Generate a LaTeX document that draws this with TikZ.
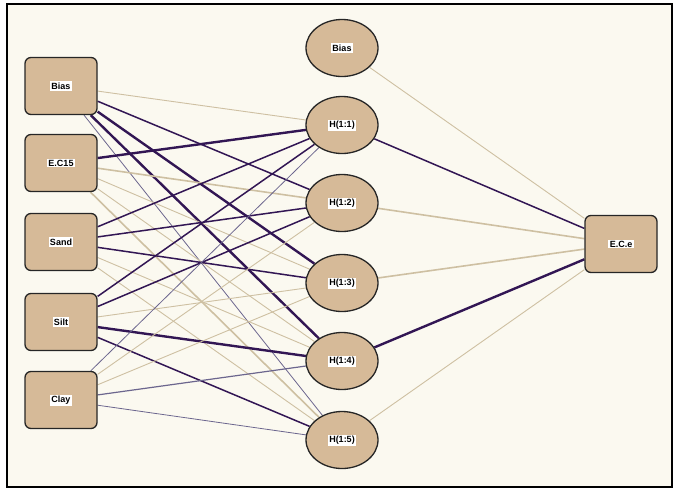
\documentclass[tikz,border=0pt]{standalone}
\usepackage{fontspec}
\setmainfont{Liberation Sans}
\usetikzlibrary{shapes.geometric,backgrounds}
\definecolor{bg}{RGB}{251,249,240}
\definecolor{nodefill}{RGB}{214,186,152}
\definecolor{dk}{RGB}{50,22,84}
\definecolor{tanl}{RGB}{206,192,162}
\definecolor{bluel}{RGB}{108,102,142}
\newcommand\lbl[1]{{\setlength\fboxsep{1.3pt}\colorbox{white}{\bfseries\fontsize{9}{10}\selectfont #1}}}
\begin{document}
\begin{tikzpicture}[x=1pt,y=-1pt,
 box/.style={draw=black!85, line width=1.3pt, fill=nodefill, rounded corners=6pt, minimum width=72pt, minimum height=57pt, inner sep=0pt},
 oval/.style={ellipse, draw=black!85, line width=1.3pt, fill=nodefill, minimum width=72pt, minimum height=57pt, inner sep=0pt},
 dkthick/.style={draw=dk, line width=2.4pt},
 dkmed/.style={draw=dk, line width=1.5pt},
 tanmed/.style={draw=tanl, line width=1.6pt},
 tanthin/.style={draw=tanl, line width=0.9pt},
 bluethin/.style={draw=bluel, line width=0.8pt},
 bluemed/.style={draw=bluel, line width=1.2pt}]
\useasboundingbox (0,0) rectangle (677,491);
% input nodes
\node[box] (ib) at (61,86) {\lbl{Bias}};
\node[box] (ie) at (61,163) {\lbl{E.C15}};
\node[box] (isa) at (61,242) {\lbl{Sand}};
\node[box] (isi) at (61,322) {\lbl{Silt}};
\node[box] (ic) at (61,400) {\lbl{Clay}};
% hidden nodes
\node[oval] (hb) at (342,48) {\lbl{Bias}};
\node[oval] (h1) at (342,125) {\lbl{H(1:1)}};
\node[oval] (h2) at (342,203) {\lbl{H(1:2)}};
\node[oval] (h3) at (342,283) {\lbl{H(1:3)}};
\node[oval] (h4) at (342,361) {\lbl{H(1:4)}};
\node[oval] (h5) at (342,440) {\lbl{H(1:5)}};
% output
\node[box] (o) at (621,244) {\lbl{E.C.e}};
\begin{pgfonlayer}{background}
\fill[white] (0,0) rectangle (677,491);
\draw[fill=bg, line width=2.2pt] (7,4) rectangle (672,487);
% Bias inputs
\draw[tanthin] (ib) -- (h1);
\draw[dkmed] (ib) -- (h2);
\draw[dkthick] (ib) -- (h3);
\draw[dkthick] (ib) -- (h4);
\draw[bluethin] (ib) -- (h5);
% E.C15
\draw[dkthick] (ie) -- (h1);
\draw[tanmed] (ie) -- (h2);
\draw[tanthin] (ie) -- (h3);
\draw[tanthin] (ie) -- (h4);
\draw[tanmed] (ie) -- (h5);
% Sand
\draw[dkmed] (isa) -- (h1);
\draw[dkmed] (isa) -- (h2);
\draw[dkmed] (isa) -- (h3);
\draw[tanthin] (isa) -- (h4);
\draw[tanthin] (isa) -- (h5);
% Silt
\draw[dkmed] (isi) -- (h1);
\draw[dkmed] (isi) -- (h2);
\draw[tanthin] (isi) -- (h3);
\draw[dkthick] (isi) -- (h4);
\draw[dkmed] (isi) -- (h5);
% Clay
\draw[bluethin] (ic) -- (h1);
\draw[tanthin] (ic) -- (h2);
\draw[tanthin] (ic) -- (h3);
\draw[bluemed] (ic) -- (h4);
\draw[bluethin] (ic) -- (h5);
% hidden to output
\draw[tanthin] (hb) -- (o);
\draw[dkmed] (h1) -- (o);
\draw[tanmed] (h2) -- (o);
\draw[tanmed] (h3) -- (o);
\draw[dkthick] (h4) -- (o);
\draw[tanthin] (h5) -- (o);
\end{pgfonlayer}
\end{tikzpicture}
\end{document}
